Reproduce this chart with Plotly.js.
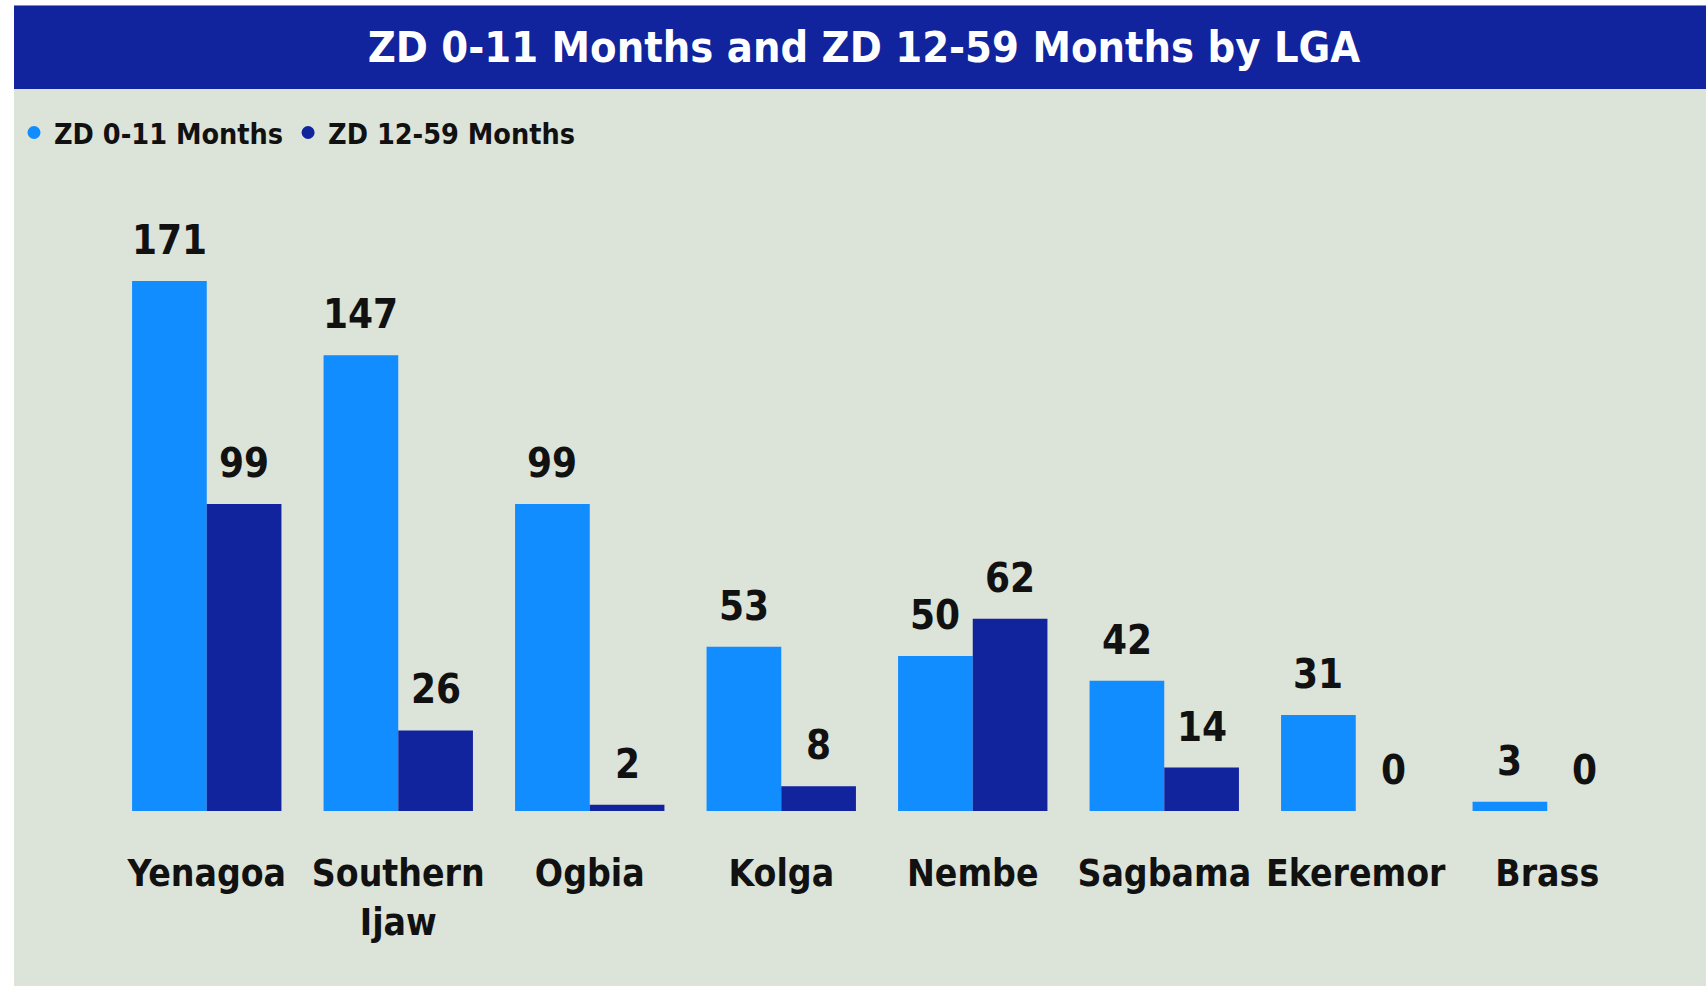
<!DOCTYPE html>
<html>
<head>
<meta charset="utf-8">
<script src="https://cdn.plot.ly/plotly-3.0.1.min.js"></script>
<style>html,body{margin:0;padding:0;background:#fff;}#chart{width:1706px;height:986px;}</style>
</head>
<body>
<div id="chart"></div>
<script>
const categories = ["Yenagoa", "Southern<br>Ijaw", "Ogbia", "Kolga", "Nembe", "Sagbama", "Ekeremor", "Brass"];
const zd0to11 = [171, 147, 99, 53, 50, 42, 31, 3];
const zd12to59 = [99, 26, 2, 8, 62, 14, 0, 0];
const seriesNames = ["ZD 0-11 Months", "ZD 12-59 Months"];
const titleText = "ZD 0-11 Months and ZD 12-59 Months by LGA";

const FONT = "'Liberation Sans Narrow', 'DejaVu Sans Condensed', 'Arial Narrow', sans-serif";
const C1 = "#118DFF", C2 = "#12239E", BG = "#DCE3D8";

const W = 1706, H = 986;
const M = {l: 111, r: 63, t: 191, b: 175};
const pw = W - M.l - M.r, ph = H - M.t - M.b;
const px = v => (v - M.l) / pw;
const py = v => (H - M.b - v) / ph;

const traces = [
  {type: "bar", x: categories, y: zd0to11, name: seriesNames[0], marker: {color: C1}, showlegend: false, hoverinfo: "x+y"},
  {type: "bar", x: categories, y: zd12to59, name: seriesNames[1], marker: {color: C2}, showlegend: false, hoverinfo: "x+y"},
  {type: "scatter", mode: "markers", x: [null], y: [null], name: seriesNames[0], marker: {color: C1, size: 13, symbol: "circle"}},
  {type: "scatter", mode: "markers", x: [null], y: [null], name: seriesNames[1], marker: {color: C2, size: 13, symbol: "circle"}}
];

const annotations = [];
const series = [zd0to11, zd12to59];
series.forEach((vals, s) => {
  vals.forEach((v, i) => {
    annotations.push({
      x: categories[i], y: v, xref: "x", yref: "y",
      text: String(v), showarrow: false, yanchor: "bottom",
      xshift: s === 0 ? -37.3 : 37.3, yshift: 16,
      font: {family: FONT, size: 40, color: "#111", weight: "bold"}
    });
  });
});

const layout = {
  width: W, height: H,
  margin: M,
  paper_bgcolor: BG,
  plot_bgcolor: "rgba(0,0,0,0)",
  barmode: "group",
  bargap: 0.22,
  bargroupgap: 0,
  font: {family: FONT, color: "#111"},
  title: {
    text: titleText, xref: "container", yref: "container",
    x: 864 / W, y: 1 - 47 / H, xanchor: "center", yanchor: "middle",
    font: {family: FONT, size: 43, color: "#ffffff", weight: "bold"}
  },
  showlegend: true,
  legend: {
    orientation: "h", xref: "container", yref: "container",
    x: 14 / W, y: 1 - 133 / H, xanchor: "left", yanchor: "middle",
    bgcolor: "rgba(0,0,0,0)",
    font: {family: FONT, size: 28.5, color: "#111", weight: "bold"},
    itemwidth: 30, traceorder: "normal"
  },
  xaxis: {
    type: "category", showgrid: false, zeroline: false, showline: false,
    tickangle: 0,
    ticks: "outside", ticklen: 30, tickcolor: "rgba(0,0,0,0)",
    tickfont: {family: FONT, size: 37, color: "#111", weight: "bold"},
    fixedrange: true
  },
  yaxis: {
    range: [0, 200], showgrid: false, zeroline: false, showline: false,
    showticklabels: false, ticks: "", fixedrange: true
  },
  shapes: [
    {type: "rect", xref: "paper", yref: "paper", x0: px(0), x1: px(W), y0: py(0), y1: py(5.4), fillcolor: "#ffffff", line: {width: 0}, layer: "below"},
    {type: "rect", xref: "paper", yref: "paper", x0: px(0), x1: px(14), y0: py(0), y1: py(H), fillcolor: "#ffffff", line: {width: 0}, layer: "below"},
    {type: "rect", xref: "paper", yref: "paper", x0: px(14), x1: px(W), y0: py(5.4), y1: py(89), fillcolor: C2, line: {width: 0}, layer: "below"}
  ],
  annotations: annotations
};

Plotly.newPlot("chart", traces, layout, {displayModeBar: false, responsive: false});
</script>
</body>
</html>
